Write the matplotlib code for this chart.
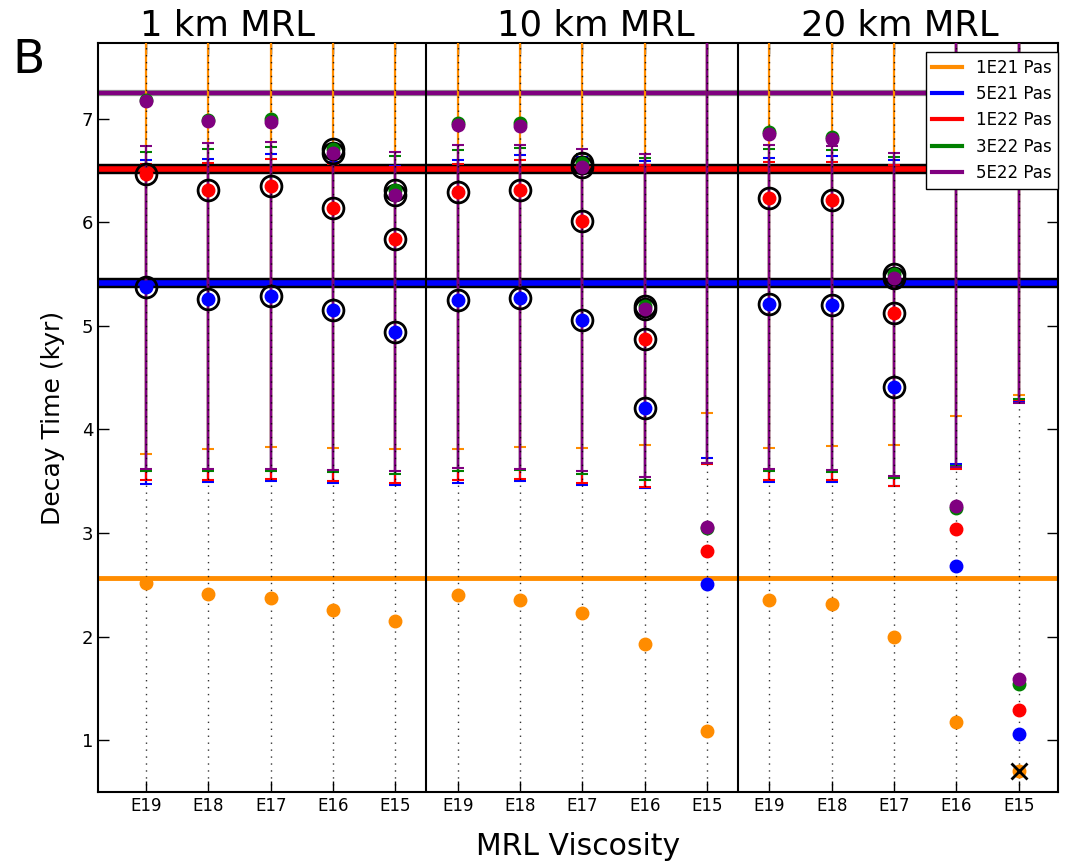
import numpy as np
import matplotlib
matplotlib.use('Agg')
from matplotlib import pyplot as plt
import matplotlib.patheffects as pe

# x tick labels repeated for the three MRL thicknesses
visc_labels = ['E19', 'E18', 'E17', 'E16', 'E15']
panel_titles = ['1 km MRL', '10 km MRL', '20 km MRL']

series_names = ['1E21 Pas', '5E21 Pas', '1E22 Pas', '3E22 Pas', '5E22 Pas']
series_colors = ['darkorange', 'b', 'r', 'g', 'purple']

OFF = 8.0  # upper bound off the top of the plot

# decay time (kyr), 15 values = 3 panels x 5 MRL viscosities
t_1e21 = [2.52, 2.41, 2.37, 2.26, 2.15, 2.40, 2.35, 2.23, 1.93, 1.09, 2.35, 2.31, 2.00, 1.18, 0.70]
t_5e21 = [5.37, 5.26, 5.29, 5.15, 4.94, 5.25, 5.27, 5.06, 4.21, 2.51, 5.21, 5.20, 4.41, 2.68, 1.06]
t_1e22 = [6.47, 6.31, 6.35, 6.14, 5.84, 6.29, 6.31, 6.01, 4.87, 2.83, 6.23, 6.21, 5.12, 3.04, 1.29]
t_3e22 = [7.18, 6.99, 7.00, 6.71, 6.31, 6.96, 6.96, 6.57, 5.19, 3.05, 6.87, 6.82, 5.50, 3.24, 1.54]
t_5e22 = [7.17, 6.98, 6.97, 6.67, 6.26, 6.94, 6.93, 6.53, 5.16, 3.06, 6.85, 6.80, 5.46, 3.26, 1.59]

# lower / upper limits of the allowed range
lo_1e21 = [3.76, 3.81, 3.83, 3.82, 3.81, 3.81, 3.83, 3.82, 3.85, 4.16, 3.82, 3.84, 3.85, 4.13, 4.33]
hi_1e21 = [OFF] * 15
lo_5e21 = [3.47, 3.49, 3.50, 3.48, 3.46, 3.48, 3.50, 3.46, 3.43, 3.72, 3.49, 3.49, 3.45, 3.67, 4.27]
hi_5e21 = [6.60, 6.61, 6.66, 6.58, 6.54, 6.60, 6.65, 6.63, 6.59, OFF, 6.62, 6.64, 6.60, OFF, OFF]
lo_1e22 = [3.51, 3.51, 3.52, 3.50, 3.48, 3.51, 3.52, 3.48, 3.44, 3.67, 3.51, 3.51, 3.45, 3.62, 4.28]
hi_1e22 = [6.56, 6.57, 6.61, 6.56, 6.53, 6.56, 6.60, 6.56, 6.55, OFF, 6.58, 6.58, 6.55, OFF, OFF]
lo_3e22 = [3.60, 3.60, 3.60, 3.59, 3.57, 3.60, 3.61, 3.57, 3.51, 3.68, 3.60, 3.59, 3.53, 3.65, 4.29]
hi_3e22 = [6.68, 6.71, 6.73, 6.72, 6.64, 6.70, 6.72, 6.66, 6.62, OFF, 6.71, 6.70, 6.63, OFF, OFF]
lo_5e22 = [3.62, 3.62, 3.62, 3.61, 3.60, 3.63, 3.62, 3.60, 3.54, 3.68, 3.62, 3.61, 3.55, 3.64, 4.25]
hi_5e22 = [6.74, 6.76, 6.77, 6.72, 6.68, 6.75, 6.75, 6.71, 6.66, OFF, 6.75, 6.74, 6.67, OFF, OFF]

# reference decay times drawn as horizontal lines
ref_1e21 = 2.565
ref_5e21 = 5.41
ref_1e22 = 6.51
ref_5e22 = 7.245

times = [t_1e21, t_5e21, t_1e22, t_3e22, t_5e22]
lows = [lo_1e21, lo_5e21, lo_1e22, lo_3e22, lo_5e22]
highs = [hi_1e21, hi_5e21, hi_1e22, hi_3e22, hi_5e22]

x = np.arange(15)

fig = plt.figure(figsize=(10.65, 8.63), dpi=100)
ax = fig.add_axes([0.092, 0.0823, 0.9014, 0.8679])

# horizontal reference lines
ax.axhline(ref_5e22, color='purple', lw=3, zorder=2,
           path_effects=[pe.Stroke(linewidth=4.5, foreground='0.55'), pe.Normal()])
ax.axhline(ref_1e22, color='r', lw=4, zorder=2,
           path_effects=[pe.Stroke(linewidth=7.5, foreground='k'), pe.Normal()])
ax.axhline(ref_5e21, color='b', lw=4, zorder=2,
           path_effects=[pe.Stroke(linewidth=7.5, foreground='k'), pe.Normal()])
ax.axhline(ref_1e21, color='darkorange', lw=3.5, zorder=2)

# error ranges
for t, lo, hi, c in zip(times, lows, highs, series_colors):
    lo = np.array(lo); hi = np.array(hi)
    ax.vlines(x, lo, hi, colors=c, lw=1.6, zorder=3)
    ax.plot(x, lo, '_', color=c, ms=9, mew=1.5, zorder=3)
    ax.plot(x, hi, '_', color=c, ms=9, mew=1.5, zorder=3)

# dotted guide lines
for xi in x:
    ax.axvline(xi, color='k', ls=(0, (1, 4)), lw=1, alpha=0.8, zorder=4)

# panel dividers
ax.axvline(4.5, color='k', lw=1.5, zorder=5)
ax.axvline(9.5, color='k', lw=1.5, zorder=5)

# points, circled when inside their own range
for t, lo, hi, c, name in zip(times, lows, highs, series_colors, series_names):
    t = np.array(t); lo = np.array(lo); hi = np.array(hi)
    inside = (t >= lo) & (t <= hi)
    ax.plot(x[inside], t[inside], 'o', mfc='none', mec='k', ms=15, mew=2, zorder=6)
    ax.plot(x, t, 'o', color=c, mec=c, ms=9, zorder=7)

# off-scale marker
ax.plot(x[14], t_1e21[14], 'x', color='k', ms=11, mew=2, zorder=8)

# legend with plain line handles
handles = [plt.Line2D([], [], color=c, lw=3) for c in series_colors]
leg = ax.legend(handles, series_names, loc='upper right', bbox_to_anchor=(1.0, 0.988),
                borderaxespad=0, fontsize=12, handlelength=1.8, fancybox=False,
                framealpha=1, edgecolor='k')
leg.set_zorder(10)

ax.set_xlim(-0.77, 14.63)
ax.set_ylim(0.5, 7.73)
ax.set_xticks(x)
ax.set_xticklabels(visc_labels * 3, fontsize=12)
ax.set_yticks(range(1, 8))
ax.tick_params(axis='y', labelsize=13)
ax.tick_params(direction='in', length=8, width=1, right=True, top=True)
for s in ax.spines.values():
    s.set_linewidth(1.5)

ax.set_xlabel('MRL Viscosity', fontsize=21.5, labelpad=12)
ax.set_ylabel('Decay Time (kyr)', fontsize=18, labelpad=12)

for title, xc in zip(panel_titles, [0.214, 0.559, 0.845]):
    fig.text(xc, 0.97, title, fontsize=25.5, ha='center', va='center')
fig.text(0.027, 0.93, 'B', fontsize=34, ha='center', va='center')

fig.savefig('out.png', dpi=100)
